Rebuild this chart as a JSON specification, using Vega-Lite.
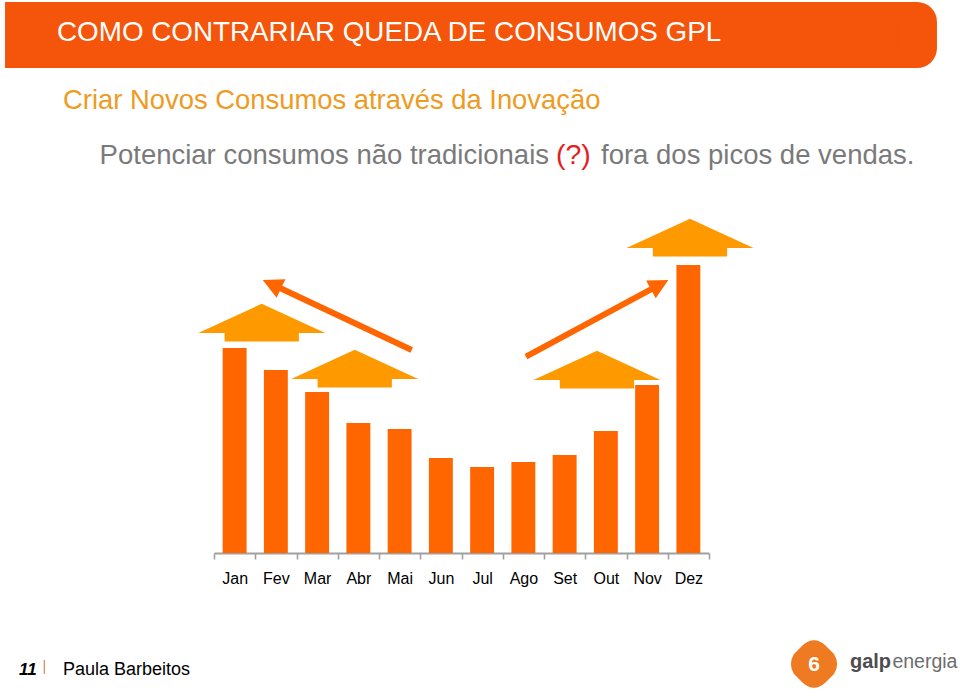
{
  "$schema": "https://vega.github.io/schema/vega-lite/v6.json",
  "width": 495,
  "height": 300,
  "autosize": {"type": "none"},
  "padding": {"left": 214, "top": 253, "right": 251, "bottom": 143},
  "background": "white",
  "config": {"view": {"stroke": null}, "font": "Liberation Sans"},
  "layer": [
    {
      "data": {"values": [
        {"month": "Jan", "consumo": 205},
        {"month": "Fev", "consumo": 183},
        {"month": "Mar", "consumo": 161},
        {"month": "Abr", "consumo": 130},
        {"month": "Mai", "consumo": 124},
        {"month": "Jun", "consumo": 95},
        {"month": "Jul", "consumo": 86},
        {"month": "Ago", "consumo": 91},
        {"month": "Set", "consumo": 98},
        {"month": "Out", "consumo": 122},
        {"month": "Nov", "consumo": 168},
        {"month": "Dez", "consumo": 288}
      ]},
      "mark": {"type": "bar", "color": "#FF6600", "width": {"band": 0.58}},
      "encoding": {
        "x": {
          "field": "month", "type": "ordinal",
          "scale": {"domain": ["Jan", "Fev", "Mar", "Abr", "Mai", "Jun", "Jul", "Ago", "Set", "Out", "Nov", "Dez"], "paddingInner": 0, "paddingOuter": 0},
          "axis": {"title": null, "labelAngle": 0, "tickBand": "extent", "domainColor": "#A0A0A0", "domainWidth": 2.2, "tickColor": "#A0A0A0", "tickWidth": 1.6, "tickSize": 6, "labelFontSize": 16, "labelColor": "#000000", "labelPadding": 11, "grid": false}
        },
        "y": {"field": "consumo", "type": "quantitative", "scale": {"domain": [0, 300], "nice": false}, "axis": null}
      }
    },
    {
      "data": {"values": [{}]},
      "mark": {"type": "rule", "color": "#F4550A", "strokeWidth": 66, "strokeCap": "butt", "xOffset": -229.6, "x2Offset": 228.6},
      "encoding": {"x": {"datum": "Jan"}, "x2": {"datum": "Dez"}, "y": {"datum": 518, "axis": null}}
    },
    {
      "data": {"values": [{}]},
      "mark": {"type": "rule", "color": "#F4550A", "strokeWidth": 40, "strokeCap": "round", "xOffset": 228.6},
      "encoding": {"x": {"datum": "Dez"}, "y": {"datum": 531, "axis": null}, "y2": {"datum": 505}}
    },
    {
      "data": {"values": [{}]},
      "mark": {"type": "text", "text": "COMO CONTRARIAR QUEDA DE CONSUMOS GPL", "align": "left", "baseline": "alphabetic", "fontSize": 27.8, "color": "#FFFFFF", "xOffset": -177.6},
      "encoding": {"x": {"datum": "Jan"}, "y": {"datum": 512, "axis": null}}
    },
    {
      "data": {"values": [{}]},
      "mark": {"type": "text", "text": "Criar Novos Consumos através da Inovação", "align": "left", "baseline": "alphabetic", "fontSize": 27.4, "color": "#EE9B1F", "xOffset": -171.6},
      "encoding": {"x": {"datum": "Jan"}, "y": {"datum": 444, "axis": null}}
    },
    {
      "data": {"values": [{}]},
      "mark": {"type": "text", "text": "Potenciar consumos não tradicionais", "align": "right", "baseline": "alphabetic", "fontSize": 27.5, "color": "#7A7A7A", "xOffset": 314.4},
      "encoding": {"x": {"datum": "Jan"}, "y": {"datum": 389, "axis": null}}
    },
    {
      "data": {"values": [{}]},
      "mark": {"type": "text", "text": "(?)", "align": "left", "baseline": "alphabetic", "fontSize": 28.5, "color": "#E31E24", "xOffset": 321.4},
      "encoding": {"x": {"datum": "Jan"}, "y": {"datum": 389, "axis": null}}
    },
    {
      "data": {"values": [{}]},
      "mark": {"type": "text", "text": "fora dos picos de vendas.", "align": "left", "baseline": "alphabetic", "fontSize": 27.5, "color": "#7A7A7A", "xOffset": 366.4},
      "encoding": {"x": {"datum": "Jan"}, "y": {"datum": 389, "axis": null}}
    },
    {
      "data": {"values": [{}]},
      "mark": {"type": "point", "shape": "M-1,0L0,-0.46L1,0L0.585,0L0.585,0.132L-0.585,0.132L-0.585,0Z", "size": 16129, "filled": true, "color": "#FF9900", "opacity": 1, "xOffset": 27.1},
      "encoding": {"x": {"datum": "Jan"}, "y": {"datum": 220, "axis": null}}
    },
    {
      "data": {"values": [{}]},
      "mark": {"type": "point", "shape": "M-1,0L0,-0.46L1,0L0.585,0L0.585,0.132L-0.585,0.132L-0.585,0Z", "size": 16129, "filled": true, "color": "#FF9900", "opacity": 1, "xOffset": 37.6},
      "encoding": {"x": {"datum": "Mar"}, "y": {"datum": 174, "axis": null}}
    },
    {
      "data": {"values": [{}]},
      "mark": {"type": "point", "shape": "M-1,0L0,-0.46L1,0L0.585,0L0.585,0.132L-0.585,0.132L-0.585,0Z", "size": 16129, "filled": true, "color": "#FF9900", "opacity": 1, "xOffset": -8.9},
      "encoding": {"x": {"datum": "Out"}, "y": {"datum": 173, "axis": null}}
    },
    {
      "data": {"values": [{}]},
      "mark": {"type": "point", "shape": "M-1,0L0,-0.46L1,0L0.585,0L0.585,0.132L-0.585,0.132L-0.585,0Z", "size": 16129, "filled": true, "color": "#FF9900", "opacity": 1, "xOffset": 1.6},
      "encoding": {"x": {"datum": "Dez"}, "y": {"datum": 305, "axis": null}}
    },
    {
      "data": {"values": [{}]},
      "mark": {"type": "point", "shape": "M-1,-0.037L0.755,-0.037L0.755,-0.125L1,0L0.755,0.125L0.755,0.037L-1,0.037Z", "size": 27093, "angle": 205.2, "filled": true, "color": "#FF6600", "opacity": 1, "xOffset": 20.1},
      "encoding": {"x": {"datum": "Mar"}, "y": {"datum": 238, "axis": null}}
    },
    {
      "data": {"values": [{}]},
      "mark": {"type": "point", "shape": "M-1,-0.037L0.755,-0.037L0.755,-0.125L1,0L0.755,0.125L0.755,0.037L-1,0.037Z", "size": 26147, "angle": 331.7, "filled": true, "color": "#FF6600", "opacity": 1, "xOffset": -8.7},
      "encoding": {"x": {"datum": "Out"}, "y": {"datum": 234.7, "axis": null}}
    },
    {
      "data": {"values": [{}]},
      "mark": {"type": "text", "text": "11", "align": "left", "baseline": "alphabetic", "fontSize": 17, "fontWeight": "bold", "fontStyle": "italic", "color": "#000000", "xOffset": -215.6},
      "encoding": {"x": {"datum": "Jan"}, "y": {"datum": -122, "axis": null}}
    },
    {
      "data": {"values": [{}]},
      "mark": {"type": "rule", "color": "#D2875A", "strokeWidth": 1.2, "xOffset": -190.3},
      "encoding": {"x": {"datum": "Jan"}, "y": {"datum": -107, "axis": null}, "y2": {"datum": -121}}
    },
    {
      "data": {"values": [{}]},
      "mark": {"type": "text", "text": "Paula Barbeitos", "align": "left", "baseline": "alphabetic", "fontSize": 18, "color": "#000000", "xOffset": -171.6},
      "encoding": {"x": {"datum": "Jan"}, "y": {"datum": -122, "axis": null}}
    },
    {
      "data": {"values": [{}]},
      "mark": {"type": "point", "shape": "M-0.45,-0.75Q0,-1.15,0.45,-0.75L0.8,-0.4Q1.05,0,0.8,0.4L0.45,0.75Q0,1.15,-0.45,0.75L-0.8,0.4Q-1.05,0,-0.8,-0.4Z", "size": 2500, "filled": true, "color": "#EE7A22", "opacity": 1, "xOffset": 125.6},
      "encoding": {"x": {"datum": "Dez"}, "y": {"datum": -111, "axis": null}}
    },
    {
      "data": {"values": [{}]},
      "mark": {"type": "text", "text": "6", "align": "center", "baseline": "alphabetic", "fontSize": 21, "fontWeight": "bold", "color": "#FFFFFF", "xOffset": 125.6},
      "encoding": {"x": {"datum": "Dez"}, "y": {"datum": -118, "axis": null}}
    },
    {
      "data": {"values": [{}]},
      "mark": {"type": "text", "text": "galp", "align": "left", "baseline": "alphabetic", "fontSize": 20, "fontWeight": "bold", "color": "#4D4D4D", "xOffset": 161.6},
      "encoding": {"x": {"datum": "Dez"}, "y": {"datum": -115, "axis": null}}
    },
    {
      "data": {"values": [{}]},
      "mark": {"type": "text", "text": "energia", "align": "left", "baseline": "alphabetic", "fontSize": 19.5, "color": "#6D6D6D", "xOffset": 204},
      "encoding": {"x": {"datum": "Dez"}, "y": {"datum": -115, "axis": null}}
    }
  ]
}
